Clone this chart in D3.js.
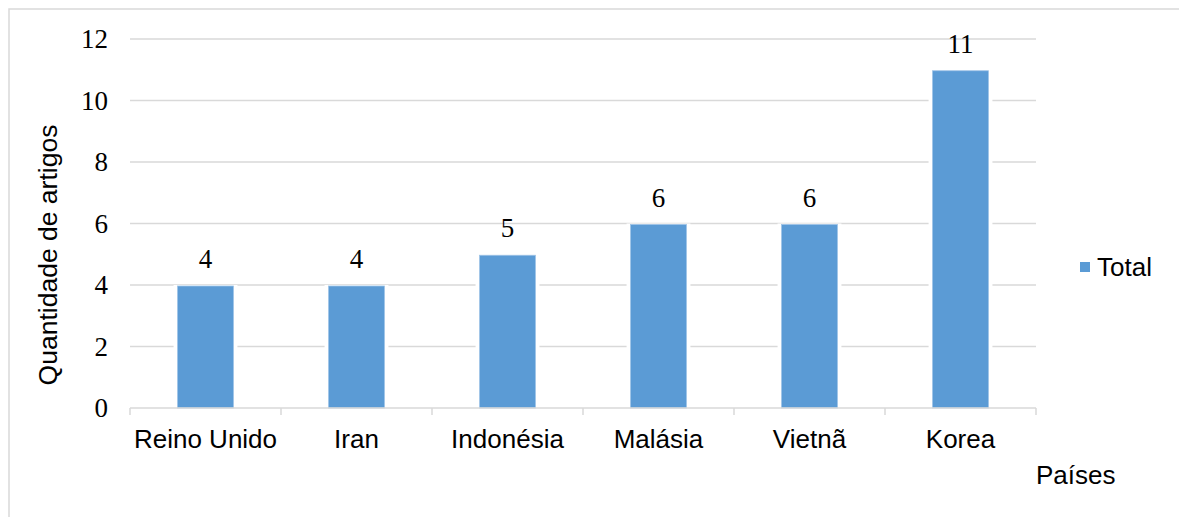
<!DOCTYPE html>
<html>
<head>
<meta charset="utf-8">
<script src="https://cdn.jsdelivr.net/npm/d3@7"></script>
<style>
  body { margin: 0; background: #fff; }
</style>
</head>
<body>
<script>
// data
var paises = ["Reino Unido", "Iran", "Indonésia", "Malásia", "Vietnã", "Korea"];
var totais = [4, 4, 5, 6, 6, 11];
var yTicks = [0, 2, 4, 6, 8, 10, 12];
var serieNome = "Total";

var W = 1179, H = 517;
var svg = d3.select("body").append("svg")
    .attr("width", W)
    .attr("height", H);

// outer chart border (cut by the picture)
svg.append("rect")
    .attr("x", 9)
    .attr("y", 9)
    .attr("width", W + 20)
    .attr("height", H + 20)
    .attr("fill", "none")
    .attr("stroke", "#d9d9d9")
    .attr("stroke-width", 1.5);

var x = d3.scaleBand()
    .domain(paises)
    .range([130, 1036])
    .paddingInner(0.63)
    .paddingOuter(0.315);

var y = d3.scaleLinear()
    .domain([0, 12])
    .range([408, 39]);

// gridlines
svg.append("g")
    .selectAll("line")
    .data(yTicks.filter(function(d) { return d > 0; }))
    .enter().append("line")
    .attr("x1", 130)
    .attr("x2", 1036)
    .attr("y1", function(d) { return y(d); })
    .attr("y2", function(d) { return y(d); })
    .attr("stroke", "#d9d9d9")
    .attr("stroke-width", 1.5);

// y tick labels
svg.append("g")
    .selectAll("text")
    .data(yTicks)
    .enter().append("text")
    .attr("x", 108)
    .attr("y", function(d) { return y(d) + 9; })
    .attr("text-anchor", "end")
    .attr("font-family", "Liberation Serif, Times New Roman, serif")
    .attr("font-size", 27)
    .attr("fill", "#000")
    .text(function(d) { return d; });

// bars, with white halo that breaks the gridlines
svg.append("g")
    .selectAll("rect")
    .data(totais)
    .enter().append("rect")
    .attr("x", function(d, i) { return x(paises[i]) - 4; })
    .attr("y", function(d) { return y(d); })
    .attr("width", x.bandwidth() + 8)
    .attr("height", function(d) { return y(0) - y(d); })
    .attr("fill", "#fff");

svg.append("g")
    .selectAll("rect")
    .data(totais)
    .enter().append("rect")
    .attr("x", function(d, i) { return x(paises[i]); })
    .attr("y", function(d) { return y(d) + 1; })
    .attr("width", x.bandwidth())
    .attr("height", function(d) { return y(0) - y(d) - 1; })
    .attr("fill", "#5b9bd5")
    .attr("stroke", "#9dc3e6")
    .attr("stroke-width", 0.8);

// value labels
svg.append("g")
    .selectAll("text")
    .data(totais)
    .enter().append("text")
    .attr("x", function(d, i) { return x(paises[i]) + x.bandwidth() / 2; })
    .attr("y", function(d) { return y(d) - 17; })
    .attr("text-anchor", "middle")
    .attr("font-family", "Liberation Serif, Times New Roman, serif")
    .attr("font-size", 27)
    .attr("fill", "#000")
    .text(function(d) { return d; });

// x axis line and ticks
svg.append("line")
    .attr("x1", 130)
    .attr("x2", 1036)
    .attr("y1", 408)
    .attr("y2", 408)
    .attr("stroke", "#d9d9d9")
    .attr("stroke-width", 1.5);

var edges = paises.map(function(p) { return x(p) - x.step() * x.paddingInner() / 2; });
edges.push(1036);
svg.append("g")
    .selectAll("line")
    .data(edges)
    .enter().append("line")
    .attr("x1", function(d) { return d; })
    .attr("x2", function(d) { return d; })
    .attr("y1", 408)
    .attr("y2", 415)
    .attr("stroke", "#d9d9d9")
    .attr("stroke-width", 1.5);

// category labels
svg.append("g")
    .selectAll("text")
    .data(paises)
    .enter().append("text")
    .attr("x", function(d) { return x(d) + x.bandwidth() / 2; })
    .attr("y", 448)
    .attr("text-anchor", "middle")
    .attr("font-family", "Liberation Sans, Arial, sans-serif")
    .attr("font-size", 26)
    .attr("fill", "#000")
    .text(function(d) { return d; });

// axis titles
svg.append("text")
    .attr("x", 1036)
    .attr("y", 484)
    .attr("font-family", "Liberation Sans, Arial, sans-serif")
    .attr("font-size", 26)
    .attr("fill", "#000")
    .text("Países");

svg.append("text")
    .attr("transform", "translate(57,255) rotate(-90)")
    .attr("text-anchor", "middle")
    .attr("font-family", "Liberation Sans, Arial, sans-serif")
    .attr("font-size", 26.5)
    .attr("fill", "#000")
    .text("Quantidade de artigos");

// legend
svg.append("rect")
    .attr("x", 1080)
    .attr("y", 262)
    .attr("width", 10)
    .attr("height", 10)
    .attr("fill", "#5b9bd5");

svg.append("text")
    .attr("x", 1097)
    .attr("y", 276)
    .attr("font-family", "Liberation Sans, Arial, sans-serif")
    .attr("font-size", 26)
    .attr("fill", "#000")
    .text(serieNome);
</script>
</body>
</html>
